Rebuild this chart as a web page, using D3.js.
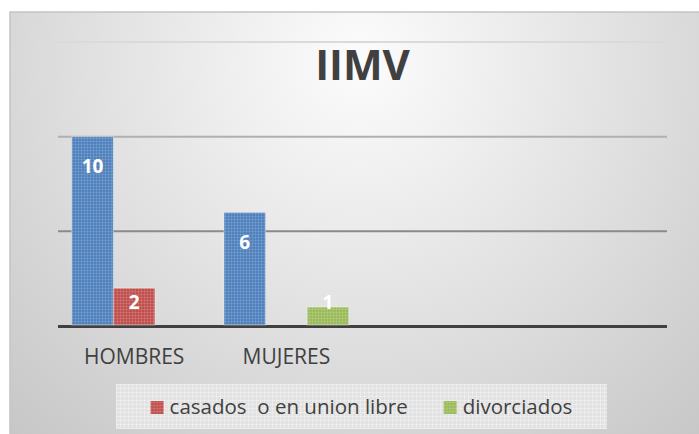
<!DOCTYPE html>
<html lang="es">
<head>
<meta charset="UTF-8">
<title>IIMV</title>
<style>
  body { margin: 0; background: #fff; }
  svg { display: block; }
</style>
</head>
<body>
<svg id="chart" width="699" height="434"></svg>
<script src="https://d3js.org/d3.v7.min.js"></script>
<script>
// chart data
var categories = ["HOMBRES", "MUJERES", "", ""];
var seriesNames = ["", "casados  o en union libre", "divorciados"];
var seriesColors = ["#4f81bd", "#c0504d", "#9bbb59"];
var solteros = [10, 6, 0, 0];
var casados = [2, 0, 0, 0];
var divorciados = [0, 1, 0, 0];
var yTicks = [0, 5, 10, 15];

var values = [solteros, casados, divorciados];

var svg = d3.select("#chart");
var defs = svg.append("defs");

// background gradient
var bg = defs.append("radialGradient")
    .attr("id", "bg")
    .attr("gradientUnits", "userSpaceOnUse")
    .attr("cx", 360).attr("cy", 60).attr("r", 520);
bg.append("stop").attr("offset", 0).attr("stop-color", "#fcfcfc");
bg.append("stop").attr("offset", 0.23).attr("stop-color", "#f0f0f0");
bg.append("stop").attr("offset", 0.6).attr("stop-color", "#dcdcdc");
bg.append("stop").attr("offset", 1).attr("stop-color", "#c6c6c6");

// dotted fill patterns for bars
seriesColors.forEach(function(c, i) {
    var p = defs.append("pattern")
        .attr("id", "pat" + i)
        .attr("width", 3).attr("height", 3)
        .attr("patternUnits", "userSpaceOnUse");
    p.append("rect").attr("width", 3).attr("height", 3).attr("fill", c);
    p.append("rect").attr("width", 3).attr("height", 1).attr("fill", "#fff").attr("opacity", 0.12);
    p.append("rect").attr("width", 1).attr("height", 3).attr("fill", "#fff").attr("opacity", 0.12);
});

var lp = defs.append("pattern")
    .attr("id", "legpat")
    .attr("width", 4).attr("height", 4)
    .attr("patternUnits", "userSpaceOnUse");
lp.append("rect").attr("width", 4).attr("height", 4).attr("fill", "#e2e2e2");
lp.append("rect").attr("width", 4).attr("height", 1).attr("fill", "#fff").attr("opacity", 0.3);
lp.append("rect").attr("width", 1).attr("height", 4).attr("fill", "#fff").attr("opacity", 0.3);

svg.append("rect")
    .attr("x", 10).attr("y", 12)
    .attr("width", 699).attr("height", 430)
    .attr("fill", "url(#bg)")
    .attr("stroke", "#c4c4c4")
    .attr("stroke-width", 1.5);

var plotLeft = 58, plotRight = 667, plotTop = 42, plotBase = 326;

var x0 = d3.scaleBand()
    .domain(categories.map(function(d, i) { return i; }))
    .range([plotLeft, plotRight])
    .paddingInner(0.18)
    .paddingOuter(0.09);

var x1 = d3.scaleBand()
    .domain(d3.range(values.length))
    .range([0, x0.bandwidth()]);

var y = d3.scaleLinear()
    .domain([0, 15])
    .range([plotBase, plotTop]);

// gridlines
var gridColors = ["#404040", "#8a8a8a", "#b0b0b0", "#dadada"];
svg.append("g").selectAll("line")
    .data(yTicks)
    .join("line")
    .attr("x1", plotLeft).attr("x2", plotRight)
    .attr("y1", function(d) { return d === 0 ? y(d) + 0.5 : y(d); })
    .attr("y2", function(d) { return d === 0 ? y(d) + 0.5 : y(d); })
    .attr("stroke", function(d, i) { return gridColors[i]; })
    .attr("stroke-width", function(d) { return d === 0 ? 3 : 2; });

// bars
var bars = [];
values.forEach(function(arr, s) {
    arr.forEach(function(v, c) {
        if (v > 0) bars.push({ s: s, c: c, v: v });
    });
});

svg.append("g").selectAll("rect")
    .data(bars)
    .join("rect")
    .attr("x", function(d) { return x0(d.c) + x1(d.s); })
    .attr("y", function(d) { return y(d.v); })
    .attr("width", x1.bandwidth())
    .attr("height", function(d) { return y(0) - 1 - y(d.v); })
    .attr("fill", function(d) { return "url(#pat" + d.s + ")"; })
    .attr("stroke", "#ffffff")
    .attr("stroke-opacity", 0.4)
    .attr("stroke-width", 1);

// value labels
svg.append("g").selectAll("text")
    .data(bars)
    .join("text")
    .attr("x", function(d) { return x0(d.c) + x1(d.s) + x1.bandwidth() / 2; })
    .attr("y", function(d) { return Math.min(y(d.v) + 30, y(0) - 24); })
    .attr("dy", "0.35em")
    .attr("text-anchor", "middle")
    .attr("font-family", "Open Sans, sans-serif")
    .attr("font-weight", "bold")
    .attr("font-size", 19)
    .attr("fill", "#ffffff")
    .text(function(d) { return d.v; });

// category axis
var xAxis = d3.axisBottom(x0)
    .tickSize(0)
    .tickPadding(21)
    .tickFormat(function(i) { return categories[i]; });

var axG = svg.append("g")
    .attr("transform", "translate(0," + (plotBase + 2) + ")")
    .call(xAxis);
axG.select(".domain").remove();
axG.selectAll("text")
    .attr("font-family", "Open Sans, sans-serif")
    .attr("font-size", 21)
    .attr("fill", "#404040");

// title
svg.append("text")
    .attr("x", (plotLeft + plotRight) / 2)
    .attr("y", 80)
    .attr("text-anchor", "middle")
    .attr("font-family", "Open Sans, sans-serif")
    .attr("font-weight", "bold")
    .attr("font-size", 42)
    .attr("fill", "#404040")
    .text("IIMV");

// legend (only named series)
svg.append("rect")
    .attr("x", 116).attr("y", 384)
    .attr("width", 491).attr("height", 45)
    .attr("fill", "url(#legpat)");

var leg = svg.append("g");
var cursor = 0;
seriesNames.forEach(function(name, i) {
    if (!name) return;
    var item = leg.append("g").attr("transform", "translate(" + cursor + ",0)");
    item.append("rect")
        .attr("x", 0).attr("y", -13)
        .attr("width", 13).attr("height", 13)
        .attr("fill", "url(#pat" + i + ")");
    var t = item.append("text")
        .attr("x", 19).attr("y", 0)
        .attr("font-family", "Open Sans, sans-serif")
        .attr("font-size", 20.5)
        .attr("fill", "#404040")
        .style("white-space", "pre")
        .text(name);
    cursor += 19 + t.node().getComputedTextLength() + 36;
});
var legWidth = cursor - 36;
leg.attr("transform", "translate(" + (361.5 - legWidth / 2) + ",414)");
</script>
</body>
</html>
